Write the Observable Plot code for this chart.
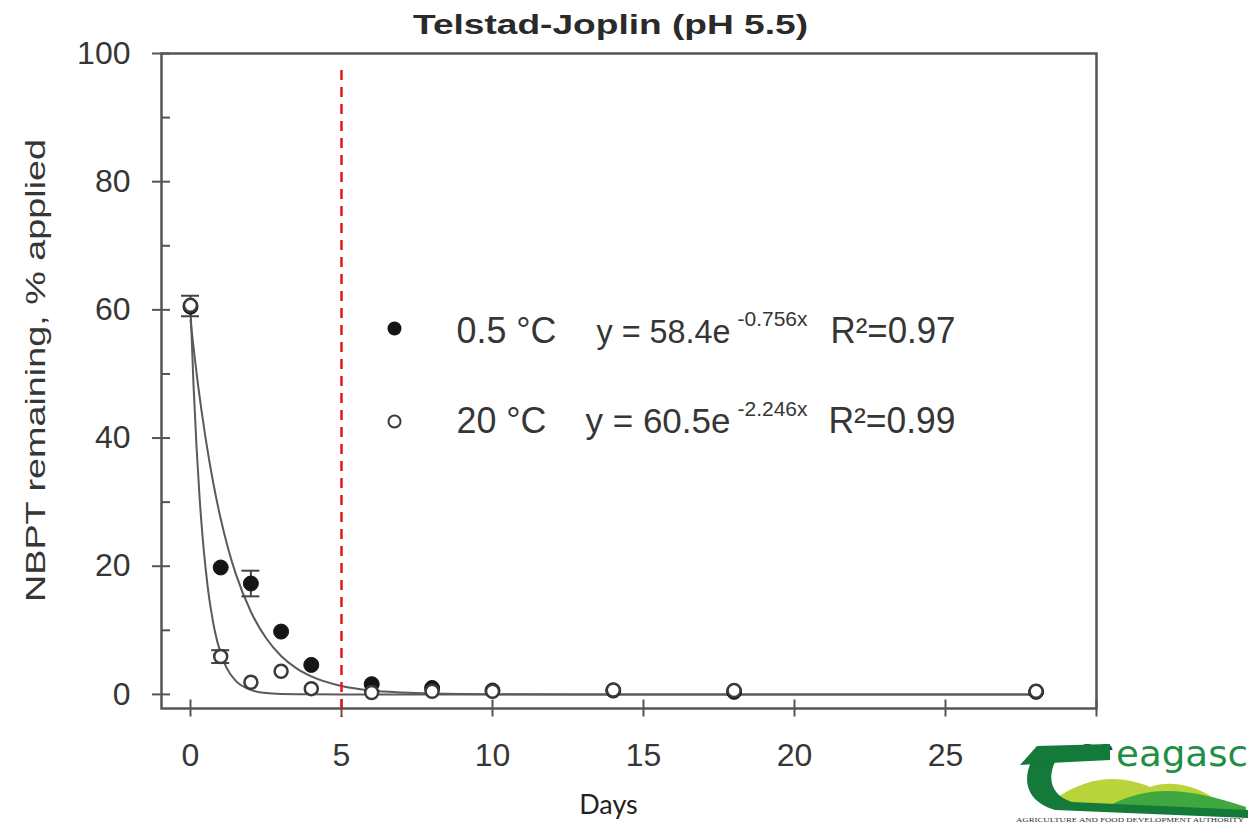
<!DOCTYPE html>
<html>
<head>
<meta charset="utf-8">
<script src="https://cdn.jsdelivr.net/npm/d3@7"></script>
<script src="https://cdn.jsdelivr.net/npm/@observablehq/plot@0.6"></script>
<style>
  body { margin: 0; background: #fff; }
  #wrap { position: relative; width: 1250px; height: 824px; overflow: hidden; background: #fff; }
  #logo { position: absolute; left: 1010px; top: 725px; }
</style>
</head>
<body>
<div id="wrap"></div>
<script>
// ---- data ----
const chartTitle = "Telstad-Joplin (pH 5.5)";
const yTitle = "NBPT remaining, % applied";
const xTitle = "Days";

const days = [0, 1, 2, 3, 4, 6, 8, 10, 14, 18, 28];
const cold = [60.5, 19.8, 17.3, 9.8, 4.6, 1.6, 1.0, 0.6, 0.6, 0.4, 0.4];   // 0.5 °C (filled)
const warm = [60.7, 5.9, 1.9, 3.6, 0.9, 0.3, 0.5, 0.5, 0.7, 0.6, 0.5];     // 20 °C (open)

const errSeries = ["cold", "warm", "warm"];
const errDays = [2, 0, 1];
const errMean = [17.3, 60.6, 5.9];
const errSd = [2.0, 1.6, 1.0];

// fitted curves as drawn
const fitDaysCold = [0, 0.25, 0.5, 0.75, 1, 1.25, 1.5, 2, 2.5, 3, 3.5, 4, 5, 6, 7, 8, 10, 14, 20, 28];
const fitCold = [58.4, 48.3, 40.0, 33.1, 27.4, 22.7, 18.8, 12.9, 8.8, 6.0, 4.1, 2.8, 1.3, 0.6, 0.3, 0.14, 0.03, 0, 0, 0];
const fitDaysWarm = [0, 0.1, 0.2, 0.3, 0.4, 0.5, 0.6, 0.7, 0.8, 1, 1.2, 1.5, 2, 2.5, 3, 4, 6, 10, 20, 28];
const fitWarm = [60.5, 48.3, 38.6, 30.8, 24.6, 19.7, 15.7, 12.6, 10.0, 6.4, 4.1, 2.1, 0.7, 0.2, 0.07, 0.01, 0, 0, 0, 0];

const xTicks = [0, 5, 10, 15, 20, 25, 30];
const yTicks = [0, 20, 40, 60, 80, 100];
const yMinorTicks = [10, 30, 50, 70, 90];
const cutoffDay = [5];

const legendLabels = ["0.5 \u00B0C", "20 \u00B0C"];
const legendEqs = ["y = 58.4e", "y = 60.5e"];
const legendExps = ["-0.756x", "-2.246x"];
const legendR2 = ["R\u00B2=0.97", "R\u00B2=0.99"];

// ---- tables built from the arrays ----
const coldPts = days.map((d, i) => ({day: d, v: cold[i]}));
const warmPts = days.map((d, i) => ({day: d, v: warm[i]}));
const errs = errDays.map((d, i) => ({s: errSeries[i], day: d, lo: errMean[i] - errSd[i], hi: errMean[i] + errSd[i]}));
const fitC = fitDaysCold.map((d, i) => ({day: d, v: fitCold[i]}));
const fitW = fitDaysWarm.map((d, i) => ({day: d, v: fitWarm[i]}));

const ink = "#363636";
const axisInk = "#555";
const L = 161, T = 53;

const txt = (s, o) => Plot.text([s], {text: d => d, ...o});

const chart = Plot.plot({
  width: 1250,
  height: 824,
  marginLeft: 161,
  marginRight: 154,
  marginTop: 53,
  marginBottom: 116,
  x: {domain: [-0.96, 30], label: null},
  y: {domain: [-2.2, 100], label: null},
  style: {fontFamily: "'Liberation Sans', Arial, sans-serif", background: "#fff", color: ink},
  marks: [
    // axes: labels
    Plot.axisY({ticks: yTicks, tickSize: 0, tickPadding: 31, fontSize: 32, color: ink, label: null}),
    Plot.axisX({ticks: xTicks, tickSize: 0, tickPadding: 35, fontSize: 32, color: ink, label: null}),
    // axes: crossing major ticks and inner minor ticks
    Plot.axisY({ticks: yTicks, tickSize: 18, dx: 9, tickFormat: () => "", stroke: axisInk, strokeWidth: 2, label: null}),
    Plot.axisY({ticks: yMinorTicks, tickSize: 9, dx: 9, tickFormat: () => "", stroke: axisInk, strokeWidth: 2, label: null}),
    Plot.axisX({ticks: xTicks, tickSize: 17, dy: -8.5, tickFormat: () => "", stroke: axisInk, strokeWidth: 2, label: null}),
    Plot.frame({stroke: axisInk, strokeWidth: 2.5}),
    // fitted curves
    Plot.line(fitC, {x: "day", y: "v", stroke: "#5a5a5a", strokeWidth: 2, curve: "monotone-x"}),
    Plot.line(fitW, {x: "day", y: "v", stroke: "#5a5a5a", strokeWidth: 2, curve: "monotone-x"}),
    // error bars
    Plot.ruleX(errs, {x: "day", y1: "lo", y2: "hi", stroke: "#444", strokeWidth: 2}),
    Plot.ruleY(errs, {y: "lo", x1: "day", x2: "day", insetLeft: -9, insetRight: -9, stroke: "#444", strokeWidth: 2}),
    Plot.ruleY(errs, {y: "hi", x1: "day", x2: "day", insetLeft: -9, insetRight: -9, stroke: "#444", strokeWidth: 2}),
    // points
    Plot.dot(coldPts, {x: "day", y: "v", r: 7.5, fill: "#151515", stroke: "#151515", strokeWidth: 1}),
    Plot.dot(warmPts, {x: "day", y: "v", r: 6.5, fill: "#fff", stroke: "#3a3a3a", strokeWidth: 2.5}),
    // 5-day reference line
    Plot.ruleX(cutoffDay, {x: d => d, stroke: "#e8141b", strokeWidth: 2.5, strokeDasharray: "10,7", insetTop: 17, insetBottom: -9}),
    // titles
    txt(chartTitle, {frameAnchor: "top", dx: 610 - 628.5, dy: 33 - T, lineAnchor: "bottom", fontSize: 27, fontWeight: "bold", fill: "#2a2a2a"}),
    txt(yTitle, {frameAnchor: "left", textAnchor: "middle", rotate: -90, dx: 44 - L, dy: 370 - 380.5, lineAnchor: "bottom", fontSize: 27, fill: ink}),
    txt(xTitle, {frameAnchor: "bottom", dx: 608 - 628.5, dy: 813 - 708, lineAnchor: "bottom", fontSize: 27, fill: "#222", fontFamily: "Lato, 'Open Sans', sans-serif"}),
    // legend
    Plot.dot([0], {frameAnchor: "top-left", dx: 394 - L, dy: 328 - T, r: 7, fill: "#151515"}),
    Plot.dot([0], {frameAnchor: "top-left", dx: 394 - L, dy: 421 - T, r: 6, fill: "#fff", stroke: "#3a3a3a", strokeWidth: 2}),
    txt(legendLabels[0], {frameAnchor: "top-left", textAnchor: "start", lineAnchor: "bottom", dx: 456 - L, dy: 342 - T, fontSize: 36, fill: ink}),
    txt(legendEqs[0], {frameAnchor: "top-left", textAnchor: "start", lineAnchor: "bottom", dx: 596 - L, dy: 342 - T, fontSize: 33, fill: ink}),
    txt(legendExps[0], {frameAnchor: "top-left", textAnchor: "start", lineAnchor: "bottom", dx: 737 - L, dy: 325 - T, fontSize: 20, fill: ink}),
    txt(legendR2[0], {frameAnchor: "top-left", textAnchor: "start", lineAnchor: "bottom", dx: 830 - L, dy: 342 - T, fontSize: 36, fill: ink}),
    txt(legendLabels[1], {frameAnchor: "top-left", textAnchor: "start", lineAnchor: "bottom", dx: 456 - L, dy: 432 - T, fontSize: 36, fill: ink}),
    txt(legendEqs[1], {frameAnchor: "top-left", textAnchor: "start", lineAnchor: "bottom", dx: 585 - L, dy: 432 - T, fontSize: 35, fill: ink}),
    txt(legendExps[1], {frameAnchor: "top-left", textAnchor: "start", lineAnchor: "bottom", dx: 737 - L, dy: 415 - T, fontSize: 20, fill: ink}),
    txt(legendR2[1], {frameAnchor: "top-left", textAnchor: "start", lineAnchor: "bottom", dx: 828 - L, dy: 432 - T, fontSize: 36, fill: ink})
  ]
});

// stretch some texts to match the reference widths
const lengths = new Map([
  [chartTitle, 395], [yTitle, 463],
  [legendLabels[0], 100], [legendLabels[1], 90],
  [legendEqs[0], 134], [legendEqs[1], 145],
  [legendExps[0], 70], [legendExps[1], 70],
  [legendR2[0], 125], [legendR2[1], 127]
]);
chart.querySelectorAll("text").forEach(t => {
  const k = t.textContent;
  if (lengths.has(k)) {
    t.setAttribute("textLength", lengths.get(k));
    t.setAttribute("lengthAdjust", "spacingAndGlyphs");
  }
});

const wrap = document.getElementById("wrap");
wrap.appendChild(chart);

// Teagasc logo (decorative)
const ns = "http://www.w3.org/2000/svg";
const logo = document.createElementNS(ns, "svg");
logo.setAttribute("id", "logo");
logo.setAttribute("width", 240);
logo.setAttribute("height", 99);
logo.innerHTML = `
  <rect x="0" y="25" width="240" height="74" fill="#fff"/>
  <path d="M45,74 C80,50 110,50 140,62 C160,55 185,60 205,74 L205,84 L60,80 Z" fill="#b9d43a"/>
  <path d="M100,80 C140,60 175,62 236,82 L236,90 Z" fill="#3fa83f"/>
  <path d="M22,35 C12,55 16,76 45,85 L238,93 L238,85 L62,77 C40,70 37,52 46,35 Z" fill="#137a3a"/>
  <path d="M10,40 L27,21 L100,19 L100,35 L40,38 Z" fill="#137a3a"/>
  <text x="106" y="41" font-size="36" fill="#1f8f45" font-family="'DejaVu Sans', sans-serif" textLength="132" lengthAdjust="spacingAndGlyphs">eagasc</text>
  <text x="6" y="97" font-size="6.5" fill="#333" font-family="'Liberation Serif', serif" textLength="228" lengthAdjust="spacingAndGlyphs">AGRICULTURE AND FOOD DEVELOPMENT AUTHORITY</text>
`;
wrap.appendChild(logo);
</script>
</body>
</html>
